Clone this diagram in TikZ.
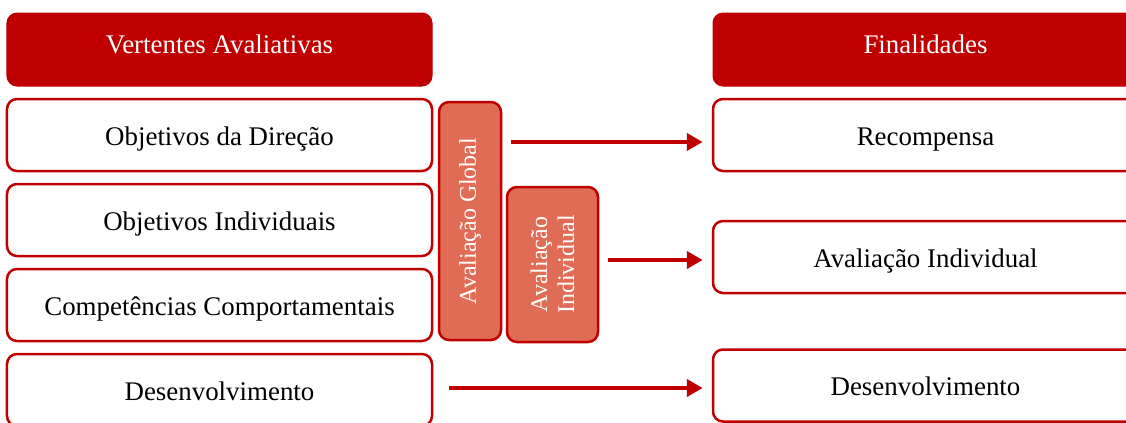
\documentclass[tikz,border=0pt]{standalone}
\usepackage{fontspec}
\setmainfont{Liberation Serif}
\usetikzlibrary{arrows.meta}
\definecolor{darkred}{HTML}{C00000}
\definecolor{salmon}{HTML}{E06C55}
\begin{document}
\begin{tikzpicture}[x=1bp,y=-1bp,
  header/.style={rectangle,rounded corners=10bp,fill=darkred,draw=darkred,line width=1bp,
    minimum width=425bp,minimum height=73bp,text=white,inner sep=0pt,
    text height=19bp,text depth=12bp,
    font=\fontsize{27}{32}\selectfont},
  item/.style={rectangle,rounded corners=10bp,fill=white,draw=darkred,line width=2.5bp,
    minimum width=425bp,minimum height=72bp,text=black,inner sep=0pt,
    text height=24bp,text depth=4bp,
    font=\fontsize{27}{32}\selectfont},
  vbox/.style={rectangle,rounded corners=10bp,fill=salmon,draw=darkred,line width=2.5bp,
    rotate=90,text=white,inner sep=0pt,align=center,
    font=\fontsize{24}{27}\selectfont},
  link/.style={draw=darkred,line width=4bp,-{Triangle[length=16bp,width=17bp]}}]
\useasboundingbox (0,0) rectangle (1126,422);
\clip (0,0) rectangle (1126,422);

% left column
\node[header] (hl) at (219.5,49.5) {Vertentes Avaliativas};
\node[item] (od) at (219.5,135) {Objetivos da Direção};
\node[item] (oi) at (219.5,220) {Objetivos Individuais};
\node[item] (cc) at (219.5,305) {Competências Comportamentais};
\node[item] (dl) at (219.5,390) {Desenvolvimento};

% vertical blocks
\node[vbox,minimum width=238bp,minimum height=62bp] (ag) at (470,221) {Avaliação Global};
\node[vbox,minimum width=155bp,minimum height=91bp] (ai) at (552.5,264.5) {Avaliação\\Individual};

% right column
\node[header] (hr) at (925.5,49.5) {Finalidades};
\node[item] (rc) at (925.5,135) {Recompensa};
\node[item] (air) at (925.5,257) {Avaliação Individual};
\node[item] (dr) at (925.5,385.5) {Desenvolvimento};

% connectors (horizontal, at fixed heights)
\draw[link,shorten <=9bp,shorten >=9bp] (ag.south |- 0,142) -- (rc.west |- 0,142);
\draw[link,shorten <=9bp,shorten >=9bp] (ai.south |- 0,260) -- (air.west |- 0,260);
\draw[link,shorten <=16bp,shorten >=9bp] (dl.east |- 0,388) -- (dr.west |- 0,388);
\end{tikzpicture}
\end{document}
